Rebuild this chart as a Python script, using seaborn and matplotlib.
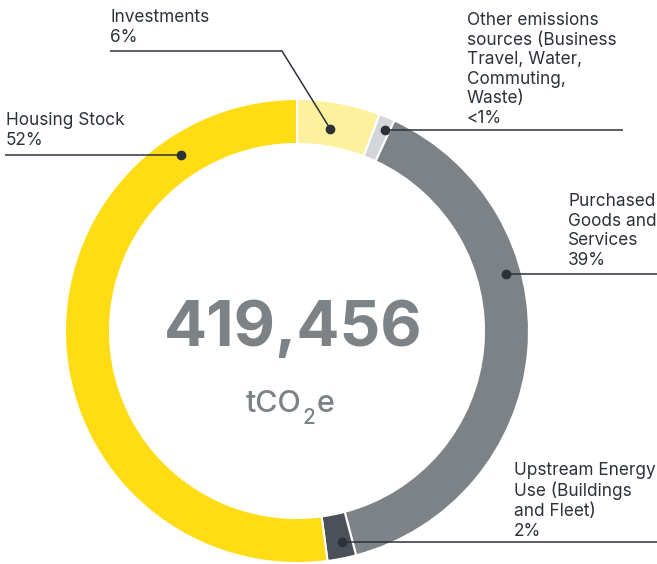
import numpy as np
import matplotlib
matplotlib.use("Agg")
import matplotlib.pyplot as plt
import seaborn as sns

# --- datos ---
categorias = ["Investments", "Other emissions sources", "Purchased Goods and Services",
              "Upstream Energy Use", "Housing Stock"]
porcentajes = [5.8, 1.1, 39.0, 2.0, 52.1]
etiquetas = [
    "Investments\n6%",
    "Other emissions\nsources (Business\nTravel, Water,\nCommuting,\nWaste)\n<1%",
    "Purchased\nGoods and\nServices\n39%",
    "Upstream Energy\nUse (Buildings\nand Fleet)\n2%",
    "Housing Stock\n52%",
]
total = "419,456"
unidad = ["tCO", "2", "e"]

colores = ["#FEF19E", "#D4D5D9", "#7D8287", "#4B5059", "#FFDC14"]
TXT = "#2C313A"
GRIS = "#7D8287"

sns.set_theme(style="white")
plt.rcParams["font.family"] = ["Inter", "DejaVu Sans"]

W, H = 657, 564
fig = plt.figure(figsize=(W / 100, H / 100), dpi=100)
ax = fig.add_axes([0, 0, 1, 1])

cx, cy = 297, H - 331
R, ancho = 232, 45
ax.pie(porcentajes, colors=colores, startangle=90, counterclock=False,
       radius=R, center=(cx, cy),
       wedgeprops=dict(width=ancho, edgecolor="white", linewidth=1.5))
ax.set_xlim(0, W)
ax.set_ylim(0, H)
ax.set_aspect("equal")
ax.axis("off")

def py(y):
    return H - y

# ángulo del punto (grados, horario desde arriba), radio, texto (x, y_cap), línea
layout = {
    "Investments": dict(ang=9.3, r=205, tx=110, ty=12, line=[(110, 51), (282, 51)]),
    "Other emissions sources": dict(ang=23.6, r=219, tx=467, ty=15, line=[(623, None)]),
    "Purchased Goods and Services": dict(ang=74.8, r=217, tx=568, ty=196, line=[(657, None)]),
    "Upstream Energy Use": dict(ang=168.0, r=216, tx=514, ty=465, line=[(657, None)]),
    "Housing Stock": dict(ang=326.6, r=211, tx=6, ty=115, line=[(5, None)]),
}

for cat, lab in zip(categorias, etiquetas):
    L = layout[cat]
    a = np.deg2rad(L["ang"])
    dx = cx + L["r"] * np.sin(a)
    dy = cy + L["r"] * np.cos(a)
    pts = []
    for (x, y) in L["line"]:
        pts.append((x, py(y) if y is not None else dy))
    pts.append((dx, dy))
    xs, ys = zip(*pts)
    ax.plot(xs, ys, color=TXT, lw=1.1, solid_capstyle="butt", zorder=3)
    ax.plot(dx, dy, "o", color=TXT, ms=6, zorder=4)
    ax.text(L["tx"], py(L["ty"] - 3), lab, ha="left", va="top", fontsize=12.4,
            color=TXT, linespacing=1.2)

ax.text(293, py(330), total, ha="center", va="center", fontsize=46,
        fontweight="bold", color=GRIS)

# unidad con subíndice colocado a mano
fig.canvas.draw()
rend = fig.canvas.get_renderer()
x0 = 246
base = py(412)
t1 = ax.text(x0, base, unidad[0], ha="left", va="baseline", fontsize=22,
             fontweight="medium", color=GRIS)
bb = t1.get_window_extent(rend)
x1 = x0 + bb.width + 1
t2 = ax.text(x1, py(424), unidad[1], ha="left", va="baseline", fontsize=15,
             fontweight="medium", color=GRIS)
bb2 = t2.get_window_extent(rend)
x2 = x1 + bb2.width + 1
ax.text(x2, base, unidad[2], ha="left", va="baseline", fontsize=22,
        fontweight="medium", color=GRIS)

fig.savefig("out.png", dpi=100)
